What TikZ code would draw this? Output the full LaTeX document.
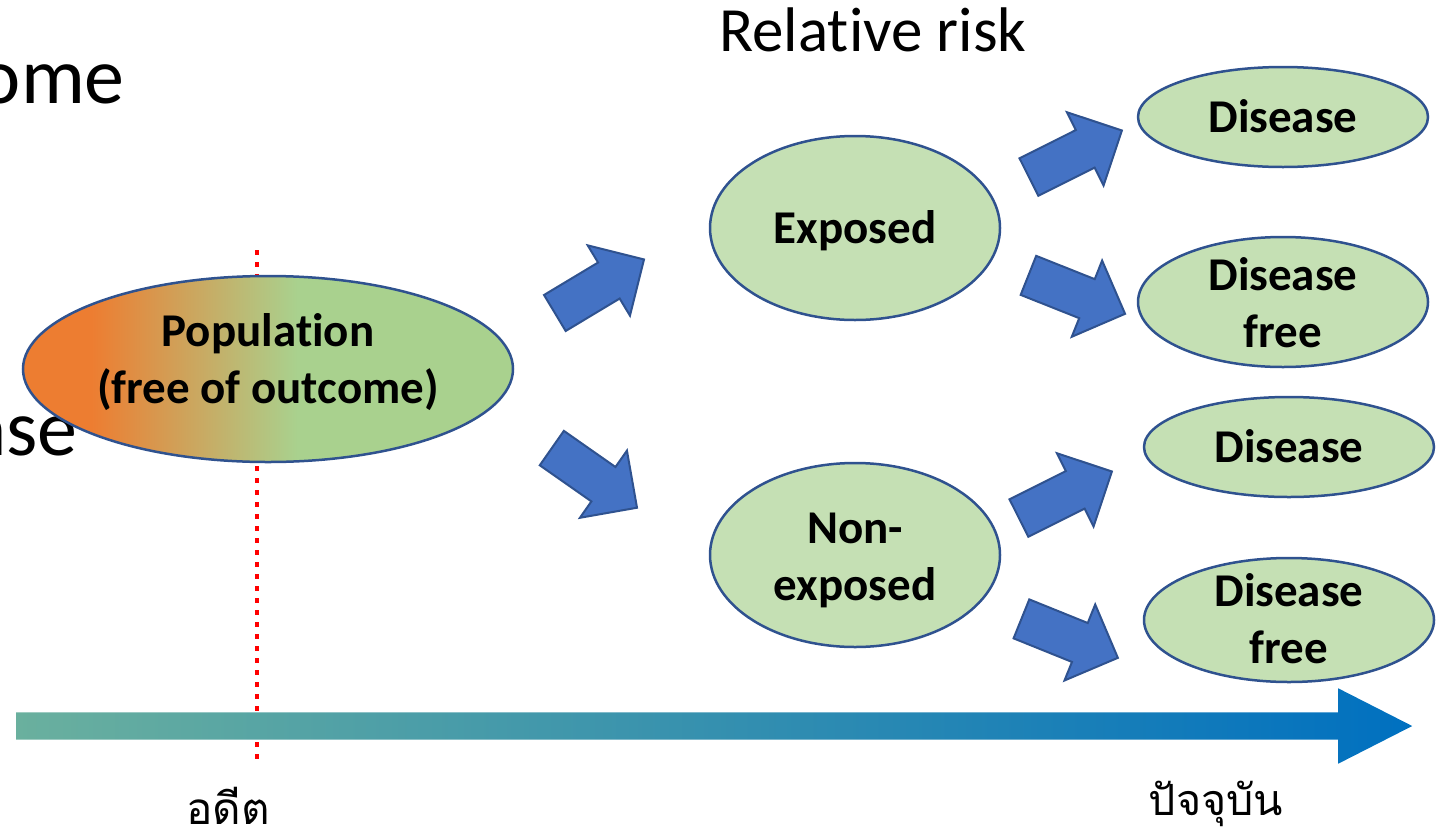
\documentclass[tikz,border=0pt]{standalone}
\usepackage{fontspec}
\setmainfont[Ligatures=NoCommon]{Carlito}
\newfontfamily\thaifont[Script=Thai]{Loma}
\usetikzlibrary{shapes,arrows,positioning}

\definecolor{edgeblue}{RGB}{47,82,143}
\definecolor{bubblegreen}{RGB}{197,224,180}
\definecolor{arrowblue}{RGB}{68,114,196}
\definecolor{poporange}{RGB}{237,125,49}
\definecolor{popgreen}{RGB}{169,209,142}
\definecolor{lineteal}{RGB}{106,176,158}
\definecolor{lineblue}{RGB}{0,112,192}
\pgfdeclarehorizontalshading{popshade}{100bp}{color(0bp)=(poporange); color(32bp)=(poporange); color(53bp)=(popgreen); color(100bp)=(popgreen)}

\begin{document}
\begin{tikzpicture}[x=1pt,y=-1pt,
	bubble/.style={shape=ellipse, draw=edgeblue, line width=2.5pt, inner sep=-30pt, align=center, text height=40pt, text depth=10pt, font=\bfseries\fontsize{47}{57}\selectfont},
	blockarrow/.style={shape=single arrow, anchor=tail, draw=edgeblue, line width=2pt, fill=arrowblue, inner xsep=0pt, inner ysep=20pt, minimum height=104pt, minimum width=80pt, single arrow head extend=20pt}]
	\useasboundingbox (0,0) rectangle (1445,838);
	
	\node[anchor=base east, inner sep=0pt, font=\fontsize{80}{96}\selectfont] (outcome) at (125,103) {ome};
	\node[anchor=base east, inner sep=0pt, font=\fontsize{80}{96}\selectfont] (disease) at (78,455) {ase};
	\node[font=\fontsize{63}{75}\selectfont] (rr) at (873,30) {Relative risk};
	
	\coordinate (past top) at (257,250);
	\coordinate (past bottom) at (257,762);
	\draw[red, line width=4.5pt, dash pattern=on 4.5pt off 7.5pt] (past top) -- (past bottom);
	
	\node[shape=single arrow, anchor=tail, left color=lineteal, right color=lineblue, inner xsep=0pt, inner ysep=13.5pt, minimum height=1396pt, minimum width=75pt, single arrow head extend=24pt, single arrow tip angle=54] (timeline) at (16,726) {};
	
	\node[bubble, shading=popshade, minimum width=490pt, minimum height=186pt, text height=78pt] (pop) at (268,369) {Population\\(free of outcome)};
	\node[bubble, fill=bubblegreen, minimum width=290pt, minimum height=184pt] (exp) at (855,228) {Exposed};
	\node[bubble, fill=bubblegreen, minimum width=290pt, minimum height=184pt, text height=100pt] (nonexp) at (855,555) {Non-\\exposed};
	\node[bubble, fill=bubblegreen, minimum width=290pt, minimum height=100pt] (dis1) at (1283,117) {Disease};
	\node[bubble, fill=bubblegreen, minimum width=290pt, minimum height=130pt, text height=100pt] (free1) at (1283,302) {Disease\\free};
	\node[bubble, fill=bubblegreen, minimum width=290pt, minimum height=100pt] (dis2) at (1289,447) {Disease};
	\node[bubble, fill=bubblegreen, minimum width=290pt, minimum height=124pt, text height=96pt] (free2) at (1289,620) {Disease\\free};
	
	\node[blockarrow, rotate=31] (a1) at (554,313.5) {};
	\node[blockarrow, rotate=-35] (a2) at (551,447.5) {};
	\node[blockarrow, rotate=26.6] (a3) at (1028,177.5) {};
	\node[blockarrow, rotate=-21.7] (a4) at (1027.5,275) {};
	\node[blockarrow, rotate=26.6] (a5) at (1018,518.5) {};
	\node[blockarrow, rotate=-22] (a6) at (1020.5,618.5) {};
	
	\node[inner sep=0pt, font=\thaifont\fontsize{44}{52}\selectfont] (past) at (228,806) {อดีต};
	\node[inner sep=0pt, font=\thaifont\fontsize{43}{52}\selectfont] (now) at (1216,804) {ปัจจุบัน};
\end{tikzpicture}
\end{document}
